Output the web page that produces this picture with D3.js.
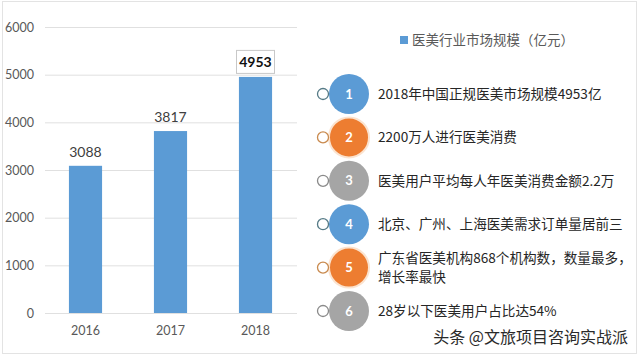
<!DOCTYPE html>
<html>
<head>
<meta charset="utf-8">
<script src="https://cdn.jsdelivr.net/npm/d3@7"></script>
<style>
  html, body { margin: 0; padding: 0; background: #fff; }
  svg { display: block; }
</style>
</head>
<body>
<script>
'use strict';

// chart data
const years = ["2016", "2017", "2018"];
const values = [3088, 3817, 4953];
const yTicks = [0, 1000, 2000, 3000, 4000, 5000, 6000];
const seriesName = "医美行业市场规模（亿元）";
const itemNums = ["1", "2", "3", "4", "5", "6"];
const itemTexts = [
  ["2018年中国正规医美市场规模4953亿"],
  ["2200万人进行医美消费"],
  ["医美用户平均每人年医美消费金额2.2万"],
  ["北京、广州、上海医美需求订单量居前三"],
  ["广东省医美机构868个机构数，数量最多，", "增长率最快"],
  ["28岁以下医美用户占比达54%"]
];
const watermark = "头条 @文旅项目咨询实战派";

const W = 640, H = 356;
const numFont = "Lato, 'Liberation Sans', sans-serif";
const cjkFont = "'Noto Sans CJK SC', 'Noto Sans', sans-serif";

const svg = d3.select("body").append("svg")
  .attr("width", W)
  .attr("height", H);

svg.append("rect")
  .attr("width", W).attr("height", H)
  .attr("fill", "#fff");

// light frame around the picture
svg.append("rect")
  .attr("x", 2.5).attr("y", 1.5)
  .attr("width", 634).attr("height", 352)
  .attr("fill", "none")
  .attr("stroke", "#e3e3e3");

// scales
const x = d3.scaleBand()
  .domain(years)
  .range([43, 298])
  .paddingInner(0.61)
  .paddingOuter(0.305);

const y = d3.scaleLinear()
  .domain([0, 6000])
  .range([313, 27]);

// gridlines
svg.append("g")
  .selectAll("line")
  .data(yTicks)
  .join("line")
    .attr("x1", 45).attr("x2", 297)
    .attr("y1", d => y(d) + 0.5).attr("y2", d => y(d) + 0.5)
    .attr("stroke", "#e0e0e0")
    .attr("stroke-width", 1);

// y axis labels
const yAxis = d3.axisLeft(y).tickValues(yTicks).tickFormat(d3.format("d"))
  .tickSize(0).tickPadding(0);
svg.append("g")
  .attr("transform", "translate(34,0)")
  .call(yAxis)
  .call(g => g.select(".domain").remove())
  .selectAll("text")
    .attr("fill", "#595959")
    .style("font", "12.5px " + numFont);

// x axis labels
const xAxis = d3.axisBottom(x).tickSize(0).tickPadding(0);
svg.append("g")
  .attr("transform", "translate(0,326)")
  .call(xAxis)
  .call(g => g.select(".domain").remove())
  .selectAll("text")
    .attr("fill", "#595959")
    .style("font", "12.5px " + numFont);

// bars
svg.append("g")
  .selectAll("rect")
  .data(values)
  .join("rect")
    .attr("x", (d, i) => x(years[i]))
    .attr("y", d => y(d))
    .attr("width", x.bandwidth())
    .attr("height", d => y(0) - y(d))
    .attr("fill", "#5b9bd5");

// value labels
const last = values.length - 1;
svg.append("g")
  .selectAll("text")
  .data(values.slice(0, last))
  .join("text")
    .attr("x", (d, i) => x(years[i]) + x.bandwidth() / 2)
    .attr("y", d => y(d) - 9)
    .attr("text-anchor", "middle")
    .attr("fill", "#404040")
    .style("font", "14px " + numFont)
    .text(d => d);

// highlighted label of the last bar
const lx = x(years[last]) + x.bandwidth() / 2;
const ly = y(values[last]) - 15;
svg.append("rect")
  .attr("x", lx - 19).attr("y", ly - 11.5)
  .attr("width", 38).attr("height", 23)
  .attr("fill", "#fff")
  .attr("stroke", "#c8c8c8");
svg.append("text")
  .attr("x", lx).attr("y", ly)
  .attr("dy", "0.36em")
  .attr("text-anchor", "middle")
  .attr("fill", "#111")
  .style("font", "bold 14px " + numFont)
  .text(values[last]);

// legend
svg.append("rect")
  .attr("x", 400).attr("y", 36)
  .attr("width", 8).attr("height", 8)
  .attr("fill", "#5b9bd5");
svg.append("text")
  .attr("x", 412).attr("y", 40)
  .attr("dy", "0.36em")
  .attr("fill", "#595959")
  .style("font", "13.5px " + cjkFont)
  .text(seriesName);

// numbered list
const itemY = d3.scaleLinear().domain([0, itemNums.length - 1]).range([94, 311]);
const fillColor = d3.scaleOrdinal().range(["#5b9bd5", "#ed7d31", "#a5a5a5"]);
const ringColor = d3.scaleOrdinal().range(["#557a86", "#c98a4e", "#8a8a8a"]);

const items = svg.append("g")
  .selectAll("g")
  .data(itemNums)
  .join("g")
    .attr("transform", (d, i) => `translate(0,${itemY(i)})`);

items.append("circle")
  .attr("cx", 349).attr("cy", 0).attr("r", 20)
  .attr("fill", (d, i) => fillColor(i % 3))
  .attr("stroke", (d, i) => i % 3 === 1 ? "#fbe3cf" : "none")
  .attr("stroke-width", 2);

items.append("circle")
  .attr("cx", 323).attr("cy", 0).attr("r", 5.5)
  .attr("fill", "#fff")
  .attr("stroke", (d, i) => ringColor(i % 3))
  .attr("stroke-width", 1.3);

items.append("text")
  .attr("x", 349).attr("y", 0)
  .attr("dy", "0.36em")
  .attr("text-anchor", "middle")
  .attr("fill", "#fff")
  .style("font", "bold 13px " + numFont)
  .text(d => d);

items.append("text")
  .attr("x", 378)
  .attr("fill", "#262626")
  .style("font", "13.6px " + cjkFont)
  .each(function(d, i) {
    const lines = itemTexts[i];
    const t = d3.select(this);
    lines.forEach((line, k) => {
      t.append("tspan")
        .attr("x", 378)
        .attr("y", (k - (lines.length - 1) / 2) * 19)
        .attr("dy", "0.36em")
        .text(line);
    });
  });

// watermark
svg.append("text")
  .attr("x", 628).attr("y", 337)
  .attr("dy", "0.36em")
  .attr("text-anchor", "end")
  .attr("fill", "#2a2a2a")
  .attr("stroke", "#fff")
  .attr("stroke-width", 2.5)
  .attr("paint-order", "stroke")
  .style("font", "16px " + cjkFont)
  .text(watermark);
</script>
</body>
</html>
